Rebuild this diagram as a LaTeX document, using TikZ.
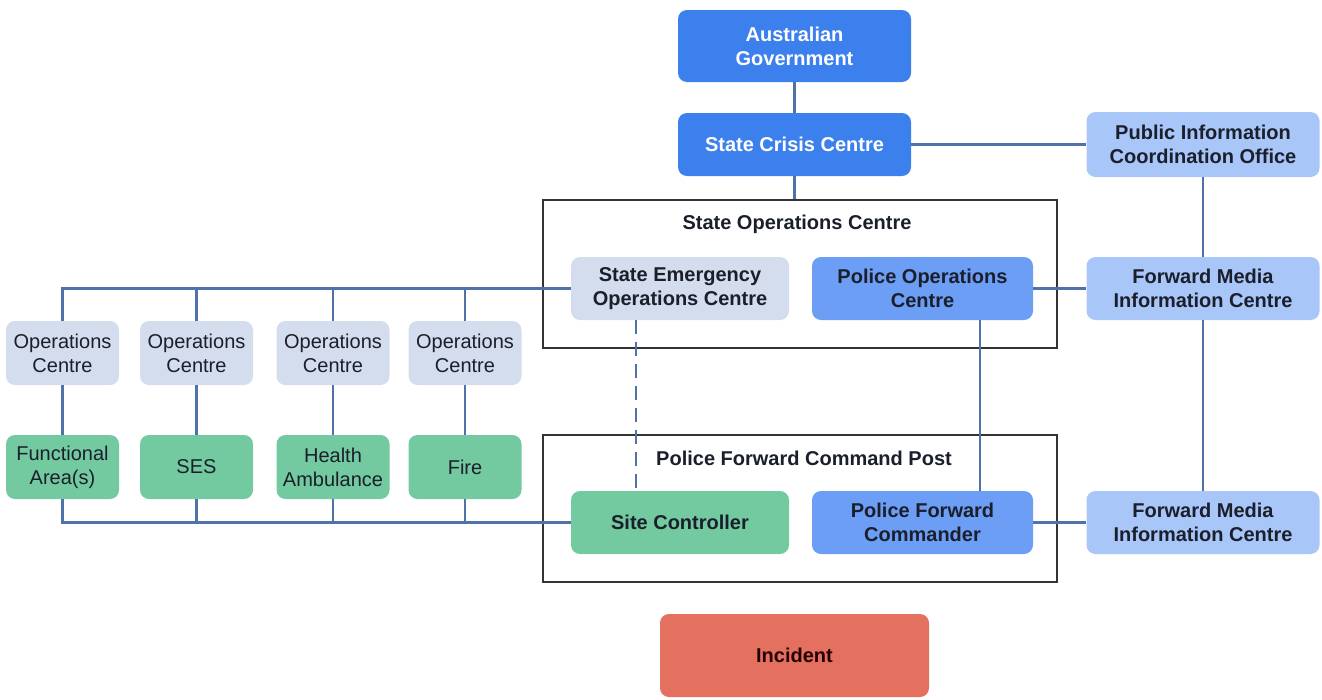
\documentclass[tikz,border=0pt]{standalone}
\usepackage{fontspec}
\setmainfont{Liberation Sans}
\usetikzlibrary{calc}
\definecolor{cDark}{HTML}{3C80EE}
\definecolor{cMid}{HTML}{6C9EF5}
\definecolor{cLight}{HTML}{A8C6F8}
\definecolor{cGrey}{HTML}{D3DDED}
\definecolor{cGreen}{HTML}{73C9A0}
\definecolor{cRed}{HTML}{E4705F}
\definecolor{cLine}{HTML}{4F72A8}
\definecolor{cText}{HTML}{1A1F2B}
\begin{document}
\begin{tikzpicture}[x=1pt,y=-1pt,
  every node/.style={font=\fontsize{20}{24}\selectfont},
  box/.style={rounded corners=9pt, align=center, inner sep=0pt, text=cText, font=\fontsize{20}{24}\selectfont\bfseries},
  wide/.style={minimum width=233pt, minimum height=64pt},
  mid/.style={minimum width=218pt, minimum height=63pt},
  small/.style={minimum width=113pt, minimum height=64pt, font=\fontsize{20}{24}\selectfont},
  darkbox/.style={box, fill=cDark, text=white},
  midbox/.style={box, fill=cMid},
  lightbox/.style={box, fill=cLight},
  greybox/.style={box, fill=cGrey},
  greenbox/.style={box, fill=cGreen},
  frame/.style={draw=black!80, line width=1.8pt, minimum width=514pt, minimum height=148pt, inner sep=0pt},
  framelabel/.style={font=\fontsize{20}{24}\selectfont\bfseries, text=cText},
  link/.style={draw=cLine, line width=2.3pt},
]
\useasboundingbox (0,0) rectangle (1322,699);

% frames
\node[frame] (soc) at (800,274) {};
\node[frame, minimum height=147pt] (pfcp) at (800,508.5) {};
\node[framelabel] (soclabel) at (797,224) {State Operations Centre};
\node[framelabel] (pfcplabel) at (804,458) {Police Forward Command Post};

% top
\node[darkbox, wide, minimum height=72pt] (ag) at (794.5,46) {Australian\\Government};
\node[darkbox, wide, minimum height=63pt] (scc) at (794.5,144.5) {State Crisis Centre};
\node[lightbox, wide, minimum height=65pt] (pico) at (1203,144.5) {Public Information\\Coordination Office};

% state operations centre
\node[greybox, mid] (seoc) at (680,288.5) {State Emergency\\Operations Centre};
\node[midbox, minimum width=221pt, minimum height=63pt] (poc) at (922.5,288.5) {Police Operations\\Centre};
\node[lightbox, wide, minimum height=63pt] (fmic1) at (1203,288.5) {Forward Media\\Information Centre};

% operations centres
\node[greybox, small] (oc1) at (62.5,353) {Operations\\Centre};
\node[greybox, small] (oc2) at (196.5,353) {Operations\\Centre};
\node[greybox, small] (oc3) at (333,353) {Operations\\Centre};
\node[greybox, small] (oc4) at (465,353) {Operations\\Centre};

\node[greenbox, small] (g1) at (62.5,467) {Functional\\Area(s)};
\node[greenbox, small] (g2) at (196.5,467) {SES};
\node[greenbox, small] (g3) at (333,467) {Health\\Ambulance};
\node[greenbox, small] (g4) at (465,467) {Fire};

% police forward command post
\node[greenbox, mid] (sc) at (680,522.5) {Site Controller};
\node[midbox, minimum width=221pt, minimum height=63pt] (pfc) at (922.5,522.5) {Police Forward\\Commander};
\node[lightbox, wide, minimum height=63pt] (fmic2) at (1203,522.5) {Forward Media\\Information Centre};

% incident
\node[box, fill=cRed, text=black!75!red!60!black, minimum width=269pt, minimum height=83pt] (inc) at (794.5,655.5) {Incident};

% connectors
\draw[link] (ag) -- (scc);
\draw[link] (scc.south) -- (scc.south |- soc.north);
\draw[link] (scc) -- (pico);
\draw[link] (pico) -- (fmic1);
\draw[link] (fmic1) -- (fmic2);
\draw[link] (poc) -- (fmic1);
\draw[link] (pfc) -- (fmic2);
\draw[link] ([xshift=57.5pt]poc.south) -- ([xshift=57.5pt]pfc.north);
\draw[link, dash pattern=on 14pt off 8pt] ([xshift=-44pt]seoc.south) -- ([xshift=-44pt]sc.north);

\draw[link] (seoc.west) -- (oc1.north |- seoc.west) -- (oc1.north);
\draw[link] (oc2.north |- seoc.west) -- (oc2.north);
\draw[link] (oc3.north |- seoc.west) -- (oc3.north);
\draw[link] (oc4.north |- seoc.west) -- (oc4.north);

\draw[link] (oc1) -- (g1);
\draw[link] (oc2) -- (g2);
\draw[link] (oc3) -- (g3);
\draw[link] (oc4) -- (g4);

\draw[link] (sc.west) -- (g1.south |- sc.west) -- (g1.south);
\draw[link] (g2.south) -- (g2.south |- sc.west);
\draw[link] (g3.south) -- (g3.south |- sc.west);
\draw[link] (g4.south) -- (g4.south |- sc.west);
\end{tikzpicture}
\end{document}
